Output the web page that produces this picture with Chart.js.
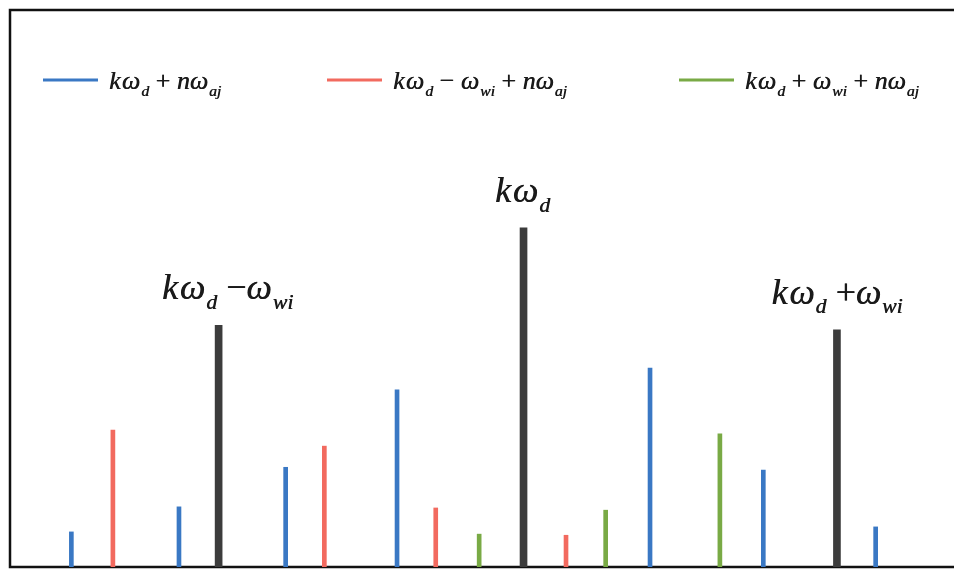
<!DOCTYPE html>
<html>
<head>
<meta charset="utf-8">
<script src="https://cdn.jsdelivr.net/npm/chart.js@4.4.0/dist/chart.umd.min.js"></script>
<style>
  html, body { margin: 0; padding: 0; background: #fff; }
  #wrap { width: 954px; height: 569px; }
</style>
</head>
<body>
<div id="wrap"><canvas id="chart"></canvas></div>
<script>
// positions along the frequency axis (0-100) and relative amplitudes
const blueX = [6.5, 17.9, 29.2, 41.0, 67.8, 79.8, 91.7];
const blueY = [6.3, 10.8, 17.9, 31.8, 35.7, 17.4, 7.2];
const redX = [10.9, 33.3, 45.1, 58.9];
const redY = [24.6, 21.7, 10.6, 5.7];
const greenX = [49.7, 63.1, 75.2];
const greenY = [5.9, 10.2, 23.9];
const mainX = [22.1, 54.4, 87.6];
const mainY = [43.4, 60.9, 42.6];

const seriesLabels = ['kω_{d} + nω_{aj}', 'kω_{d} − ω_{wi} + nω_{aj}', 'kω_{d} + ω_{wi} + nω_{aj}'];
const mainLabels = ['kω_{d} −ω_{wi}', 'kω_{d}', 'kω_{d} +ω_{wi}'];

const toPoints = (xs, ys) => xs.map((x, i) => ({ x: x, y: ys[i] }));

const FONT = '"Liberation Serif", "DejaVu Serif", serif';

// draws text like "kω_{d} + nω_{aj}" with subscripts
function drawMath(ctx, src, x, y, size, align) {
  const tokens = [];
  let i = 0;
  while (i < src.length) {
    if (src[i] === '_' && src[i + 1] === '{') {
      const j = src.indexOf('}', i);
      tokens.push({ t: src.slice(i + 2, j), sub: true });
      i = j + 1;
    } else {
      const ch = src[i];
      tokens.push({ t: ch, op: '+−'.includes(ch) });
      i++;
    }
  }
  const fontFor = tk => tk.sub ? `italic ${size * 0.6}px ${FONT}`
    : tk.op ? `${size}px ${FONT}` : `italic ${size}px ${FONT}`;
  let total = 0;
  tokens.forEach(tk => {
    ctx.font = fontFor(tk);
    tk.w = ctx.measureText(tk.t).width + (tk.sub ? 1 : 0) + (tk.t === 'k' ? size * 0.05 : 0);
    total += tk.w;
  });
  let cx = align === 'center' ? x - total / 2 : x;
  ctx.save();
  ctx.fillStyle = '#1a1a1a';
  ctx.textBaseline = 'alphabetic';
  ctx.textAlign = 'left';
  tokens.forEach(tk => {
    ctx.font = fontFor(tk);
    const tx = cx + (tk.sub ? 1 : 0);
    const ty = tk.sub ? y + size * 0.27 : y;
    // second pass slightly offset to thicken the strokes a little
    ctx.fillText(tk.t, tx, ty);
    ctx.fillText(tk.t, tx + 0.5, ty);
    cx += tk.w;
  });
  ctx.restore();
}

const framePlugin = {
  id: 'frame',
  beforeDatasetsDraw(chart) {
    const { ctx, chartArea } = chart;
    ctx.save();
    ctx.strokeStyle = '#111';
    ctx.lineWidth = 2.5;
    ctx.beginPath();
    ctx.moveTo(chart.width + 2, chartArea.top);
    ctx.lineTo(chartArea.left, chartArea.top);
    ctx.lineTo(chartArea.left, chartArea.bottom);
    ctx.lineTo(chart.width + 2, chartArea.bottom);
    ctx.stroke();
    ctx.restore();
  }
};

const labelPlugin = {
  id: 'mathLabels',
  afterDatasetsDraw(chart) {
    const { ctx } = chart;
    // legend
    const legendX = [43, 327, 679];
    const legendY = 80;
    [0, 1, 2].forEach(k => {
      const ds = chart.data.datasets[k];
      ctx.save();
      ctx.strokeStyle = ds.backgroundColor;
      ctx.lineWidth = 3;
      ctx.beginPath();
      ctx.moveTo(legendX[k], legendY);
      ctx.lineTo(legendX[k] + 55, legendY);
      ctx.stroke();
      ctx.restore();
      drawMath(ctx, seriesLabels[k], legendX[k] + 66, legendY + 9, 26, 'left');
    });
    // labels over the main lines
    const meta = chart.getDatasetMeta(3);
    const shift = [9, -1, 0];
    meta.data.forEach((bar, i) => {
      drawMath(ctx, mainLabels[i], bar.x + shift[i], bar.y - 26, 36, 'center');
    });
  }
};

new Chart(document.getElementById('chart'), {
  type: 'bar',
  data: {
    datasets: [
      { label: seriesLabels[0], data: toPoints(blueX, blueY), backgroundColor: '#3a78c4', barThickness: 4 },
      { label: seriesLabels[1], data: toPoints(redX, redY), backgroundColor: '#f26a5f', barThickness: 4 },
      { label: seriesLabels[2], data: toPoints(greenX, greenY), backgroundColor: '#79aa45', barThickness: 4 },
      { label: 'main', data: toPoints(mainX, mainY), backgroundColor: '#3c3c3c', barThickness: 7 }
    ]
  },
  options: {
    responsive: true,
    maintainAspectRatio: false,
    animation: false,
    grouped: false,
    layout: { padding: { left: 10, top: 10, right: 0, bottom: 2 } },
    scales: {
      x: { type: 'linear', min: 0, max: 100, offset: false, display: false },
      y: { min: 0, max: 100, display: false }
    },
    plugins: {
      legend: { display: false },
      tooltip: { enabled: false }
    }
  },
  plugins: [framePlugin, labelPlugin]
});
</script>
</body>
</html>
